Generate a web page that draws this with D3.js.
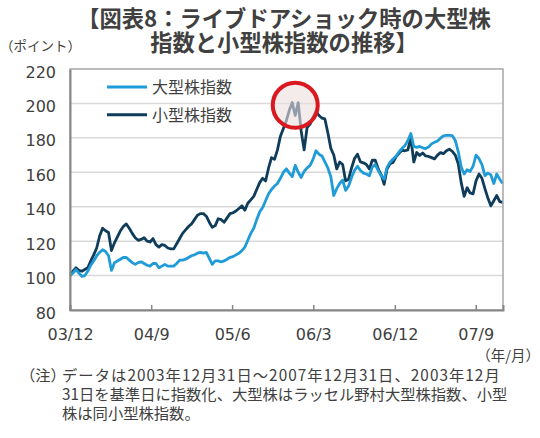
<!DOCTYPE html>
<html>
<head>
<meta charset="utf-8">
<script src="https://cdn.jsdelivr.net/npm/d3@7"></script>
<style>
    html, body { margin: 0; padding: 0; background: #fff; }
    svg { display: block; }
</style>
</head>
<body>
<div id="chart"></div>
<script>
// sampled every 10 days from 2003-12-31
const startDate = new Date(2003, 11, 31);
const endDate = new Date(2007, 11, 31);
const stepDays = 10;

const largeCap = [
    100, 101.5, 103.5, 101.5, 99.5, 100, 102.5, 106, 108.5, 111.5,
    113.5, 115, 114, 111.5, 103, 107.5, 108.5, 109.5, 110.5, 110.5,
    109, 107.5, 106.5, 107.5, 108, 107, 106, 105.5, 107, 107,
    104.5, 105.5, 106.5, 105.5, 105.5, 105.5, 107, 109, 109, 109.5,
    110.5, 111.5, 112, 113, 113.5, 113, 113.5, 110, 106.5, 108.5,
    108.5, 108, 108.5, 109.5, 110.6, 111, 112, 113, 114.5, 116.5,
    120.5, 124.5, 127.5, 132.5, 137, 139.5, 143.5, 147.5, 150, 152,
    153.5, 156.5, 160, 162, 159.5, 157.5, 164, 160, 157, 160.5,
    162.5, 164, 167.5, 172.5, 170.5, 169.5, 166, 162.5, 157.5, 146.5,
    150.5, 153.5, 155.5, 149.5, 152, 157, 161, 163.5, 161, 159.5,
    159, 158, 163, 164.5, 161, 158, 156, 163, 165.8, 167.7,
    169.3, 171.8, 173.8, 175.5, 178.5, 182.5, 175, 174.5, 175, 174.2,
    173.8, 174.7, 176.5, 177.4, 178.2, 179.8, 181.2, 181.5, 181.5, 181.3,
    178.5, 172, 163, 159, 161.5, 160.5, 163.5, 170, 168, 164.5,
    158, 159.5, 158.5, 153.5, 159, 156, 153.5
];

const smallCap = [
    100, 102.5, 104.5, 103, 102.5, 103.5, 104.5, 108.5, 112, 116,
    123, 127.5, 126, 125, 114.5, 119, 122.5, 126, 128.5, 130,
    127.5, 124.5, 122, 120.5, 121, 122, 120, 119.5, 121.5, 118,
    116.5, 118, 117.5, 116, 115.5, 115.5, 118.5, 121.5, 124.5, 126.5,
    128.5, 130, 132.5, 135, 136, 136, 134.5, 131, 128, 129,
    133, 132.5, 131, 133.5, 136, 136.5, 137.5, 139, 140.5, 138,
    142, 144, 146, 150, 154, 156.5, 155, 162.5, 168.5, 167.5,
    173, 181, 185.5, 190, 196, 200.5, 193, 200.5, 184, 173,
    186, 188, 192, 195.5, 193, 191.5, 191, 183, 174, 170,
    162, 166, 164.5, 155, 156, 162.5, 168, 170.5, 166, 165.5,
    164.5, 162, 167, 167, 162, 158.5, 153, 162, 165, 165.7,
    169, 171, 172.8, 172.5, 173, 180, 166, 171.5, 169.8, 171.2,
    169.5, 169.2, 168.5, 167.8, 170, 171.4, 170.8, 172.5, 173.4, 172.2,
    170, 165, 154, 146, 151, 148, 147.5, 155, 159, 156.5,
    150.5, 145, 140.5, 143.5, 146.5, 143, 142.5
];

const seriesNames = ['大型株指数', '小型株指数'];
const seriesColors = ['#1f9cd8', '#0f3c5a'];

const yTicks = [80, 100, 120, 140, 160, 180, 200, 220];
const xTickDates = [
    new Date(2003, 11, 31), new Date(2004, 8, 30), new Date(2005, 5, 30),
    new Date(2006, 2, 31), new Date(2006, 11, 31), new Date(2007, 8, 30)
];
const xTickLabels = ['03/12', '04/9', '05/6', '06/3', '06/12', '07/9'];

// Livedoor shock, Jan 2006
const shockIndex = 76;
const shockValue = 199;

const titleLines = ['【図表8：ライブドアショック時の大型株', '指数と小型株指数の推移】'];
const noteLines = [
    'データは2003年12月31日～2007年12月31日、2003年12月',
    '31日を基準日に指数化、大型株はラッセル野村大型株指数、小型',
    '株は同小型株指数。'
];

const width = 540;
const height = 438;
const margin = { top: 69, right: 37, bottom: 128, left: 70 };
const chartWidth = width - margin.left - margin.right;
const chartHeight = height - margin.top - margin.bottom;
const textColor = '#404040';
const fontStack = '"DejaVu Sans", "Noto Sans CJK JP", sans-serif';
const cjkFont = '"Noto Sans CJK JP", sans-serif';

const dates = largeCap.map((v, i) => d3.timeDay.offset(startDate, i * stepDays));

const svg = d3.select('#chart').append('svg')
    .attr('width', width)
    .attr('height', height);

const title = svg.append('text')
    .attr('text-anchor', 'middle')
    .style('font-family', cjkFont)
    .style('font-size', '22.3px')
    .style('font-weight', '700')
    .style('fill', textColor);

title.selectAll('tspan')
    .data(titleLines)
    .enter()
    .append('tspan')
    .attr('x', 284)
    .attr('y', (d, i) => 27 + i * 24)
    .text(d => d);

svg.append('text')
    .attr('x', 0)
    .attr('y', 51)
    .style('font-family', cjkFont)
    .style('font-size', '13.5px')
    .style('fill', textColor)
    .text('（ポイント）');

const g = svg.append('g')
    .attr('transform', 'translate(' + margin.left + ',' + margin.top + ')');

const x = d3.scaleTime()
    .domain([startDate, endDate])
    .range([0, chartWidth]);

const y = d3.scaleLinear()
    .domain([80, 220])
    .range([chartHeight, 0]);

g.append('g')
    .selectAll('line')
    .data(yTicks.slice(1, -1))
    .enter()
    .append('line')
    .attr('x1', 0)
    .attr('x2', chartWidth)
    .attr('y1', d => y(d))
    .attr('y2', d => y(d))
    .attr('stroke', '#d9d9d9')
    .attr('stroke-width', 1.5);

const line = d3.line()
    .x((d, i) => x(dates[i]))
    .y(d => y(d));

[smallCap, largeCap].forEach((series, k) => {
    g.append('path')
        .datum(series)
        .attr('fill', 'none')
        .attr('stroke', seriesColors[1 - k])
        .attr('stroke-width', 2.8)
        .attr('stroke-linejoin', 'round')
        .attr('d', line);
});

g.append('circle')
    .attr('cx', x(dates[shockIndex]))
    .attr('cy', y(shockValue))
    .attr('r', 22.5)
    .attr('fill', 'rgba(236, 222, 222, 0.6)')
    .attr('stroke', '#d9191f')
    .attr('stroke-width', 4);

g.append('rect')
    .attr('x', 0)
    .attr('y', 0)
    .attr('width', chartWidth)
    .attr('height', chartHeight)
    .attr('fill', 'none')
    .attr('stroke', '#a6a6a6')
    .attr('stroke-width', 1.5);

const yAxis = d3.axisLeft(y).tickValues(yTicks).tickSize(0).tickPadding(14);
g.append('g')
    .attr('class', 'y-axis')
    .call(yAxis)
    .attr('font-family', null)
    .selectAll('text')
    .attr('dy', '0.5em')
    .style('font-family', fontStack)
    .style('fill', textColor)
    .style('font-size', '16px');

const xAxis = d3.axisBottom(x)
    .tickValues(xTickDates)
    .tickFormat((d, i) => xTickLabels[i])
    .tickSize(-5)
    .tickPadding(19);
g.append('g')
    .attr('class', 'x-axis')
    .attr('transform', 'translate(0,' + chartHeight + ')')
    .call(xAxis)
    .attr('font-family', null)
    .selectAll('text')
    .style('font-family', fontStack)
    .style('fill', textColor)
    .style('font-size', '16px');

g.selectAll('.y-axis path, .x-axis path')
    .attr('stroke', '#868686')
    .attr('stroke-width', 2);
g.selectAll('.x-axis line')
    .attr('stroke', '#868686')
    .attr('stroke-width', 1.5);

const legend = g.append('g')
    .attr('transform', 'translate(37,18)');

seriesNames.forEach((name, i) => {
    const row = legend.append('g')
        .attr('transform', 'translate(0,' + (i * 27.7) + ')');
    row.append('line')
        .attr('x1', 0)
        .attr('x2', 40)
        .attr('y1', 0)
        .attr('y2', 0)
        .attr('stroke', seriesColors[i])
        .attr('stroke-width', 3);
    row.append('text')
        .attr('x', 45)
        .attr('y', 6)
        .style('font-family', cjkFont)
        .style('font-size', '16px')
        .style('fill', textColor)
        .text(name);
});

svg.append('text')
    .attr('x', 540)
    .attr('y', 361)
    .attr('text-anchor', 'end')
    .style('font-family', cjkFont)
    .style('font-size', '14.5px')
    .style('fill', textColor)
    .text('（年/月）');

const note = svg.append('text')
    .style('font-family', cjkFont)
    .style('font-size', '15.3px')
    .style('fill', textColor);

note.append('tspan')
    .attr('x', 20)
    .attr('y', 381)
    .text('（注）');

note.selectAll('.note')
    .data(noteLines)
    .enter()
    .append('tspan')
    .attr('class', 'note')
    .attr('x', 62)
    .attr('y', (d, i) => 381 + i * 19)
    .style('letter-spacing', (d, i) => i === 0 ? '1.05px' : '0px')
    .text(d => d);
</script>
</body>
</html>
